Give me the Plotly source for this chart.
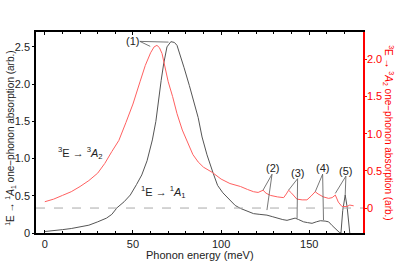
import plotly.graph_objects as go

# 1E -> 1A1 (left axis)
black_x = [0, 5, 10, 15, 20, 25, 30, 35, 38, 41, 45, 48.5, 52, 55, 58, 61, 63, 64.6, 66, 67.4, 69.3,
           71.5, 73.5, 75, 77, 79, 82, 84.5, 87, 89.2, 92, 95.4, 98, 101, 105, 108, 111, 115, 118.4,
           122, 126, 129, 131.7, 135, 137.4, 140, 142, 144, 146.8, 149, 151.6, 154, 156.3, 159, 161,
           163, 165, 167, 168, 169, 170.4, 171.5, 173]
black_y = [0.02, 0.03, 0.045, 0.06, 0.08, 0.105, 0.15, 0.2, 0.25, 0.34, 0.42, 0.51, 0.65, 0.78, 0.97,
           1.25, 1.5, 1.83, 2.05, 2.27, 2.5, 2.57, 2.56, 2.52, 2.38, 2.22, 1.98, 1.78, 1.55, 1.29, 1.05,
           0.81, 0.64, 0.54, 0.44, 0.37, 0.33, 0.29, 0.26, 0.25, 0.24, 0.22, 0.2, 0.18, 0.17, 0.185,
           0.2, 0.18, 0.15, 0.14, 0.13, 0.15, 0.165, 0.16, 0.15, 0.1, 0.05, 0.01, 0.0, 0.3, 0.51,
           0.35, 0.0]

# 3E -> 3A2 (right axis)
red_x = [0, 5, 10, 15, 20, 25, 30, 34, 38, 42, 46, 50, 54, 57, 60, 62, 63.6, 65, 66.5, 68, 70, 72.5,
         75, 78, 81, 84, 87, 90, 95, 100, 105, 111, 115, 118.4, 121, 123.8, 125.5, 128, 132, 135.5,
         137, 138.3, 140, 143, 146, 148.7, 151, 153.4, 155, 158, 161, 163, 164.8, 166.5, 168.6,
         171.4, 173, 175.2]
red_y = [0.085, 0.12, 0.17, 0.22, 0.29, 0.37, 0.47, 0.6, 0.76, 0.91, 1.15, 1.4, 1.7, 1.92, 2.09, 2.17,
         2.19, 2.16, 2.08, 1.92, 1.7, 1.5, 1.27, 1.05, 0.88, 0.72, 0.62, 0.55, 0.48, 0.39, 0.33, 0.29,
         0.25, 0.22, 0.21, 0.24, 0.2, 0.17, 0.15, 0.14, 0.19, 0.24, 0.2, 0.12, 0.11, 0.11, 0.16, 0.22,
         0.19, 0.15, 0.13, 0.14, 0.175, 0.08, 0.02, 0.02, 0.04, 0.03]

x_ticks = [0, 50, 100, 150]
left_ticks = [0, 0.5, 1.0, 1.5, 2.0, 2.5]
left_tick_text = ["0", "0.5", "1.0", "1.5", "2.0", "2.5"]
right_ticks = [0, 0.5, 1.0, 1.5, 2.0]
right_tick_text = ["0", "0.5", "1.0", "1.5", "2.0"]

peak_labels = ["(1)", "(2)", "(3)", "(4)", "(5)"]

FONT = "Liberation Sans, Arial, sans-serif"
RED = "#ff0000"

fig = go.Figure()
fig.add_trace(go.Scatter(x=black_x, y=black_y, mode="lines", hoverinfo="skip",
                         line=dict(color="#555555", width=1), yaxis="y", showlegend=False))
fig.add_trace(go.Scatter(x=red_x, y=red_y, mode="lines", hoverinfo="skip",
                         line=dict(color="#ff6060", width=1), yaxis="y2", showlegend=False))

shapes = [dict(type="line", xref="paper", yref="y2", x0=0, x1=1, y0=0, y1=0,
               line=dict(color="#aaaaaa", width=1, dash="dash"))]

label_geo = [
    (49.8, 2.574, (53.9, 2.574), (59.8, 2.507), (70.2, 2.564)),
    (129.2, 0.867, (128.9, 0.79), (123.8, 0.576), (126.0, 0.308)),
    (143.4, 0.80, (143.4, 0.73), (138.3, 0.576), (143.1, 0.197)),
    (157.6, 0.867, (157.6, 0.79), (153.4, 0.554), (158.1, 0.174)),
    (170.8, 0.835, (170.8, 0.764), (164.8, 0.532), (170.4, 0.509)),
]
annotations = []
for lab, (tx, ty, st, rt, bt) in zip(peak_labels, label_geo):
    annotations.append(dict(x=tx, y=ty, xref="x", yref="y", text=lab, showarrow=False,
                            font=dict(size=11, color="#222222", family=FONT)))
    for tgt in (rt, bt):
        shapes.append(dict(type="line", xref="x", yref="y", x0=st[0], y0=st[1], x1=tgt[0], y1=tgt[1],
                           line=dict(color="#555555", width=0.8)))

annotations.append(dict(x=20.1, y=1.068, xref="x", yref="y", showarrow=False,
                        text="<sup>3</sup>E → <sup>3</sup><i>A</i><sub>2</sub>",
                        font=dict(size=11, color="#222222", family=FONT)))
annotations.append(dict(x=67.4, y=0.554, xref="x", yref="y", showarrow=False,
                        text="<sup>1</sup>E → <sup>1</sup><i>A</i><sub>1</sub>",
                        font=dict(size=11, color="#222222", family=FONT)))

# axis titles as annotations (fixed positions)
annotations.append(dict(x=-0.0786, y=0.47, xref="paper", yref="paper", showarrow=False, textangle=-90,
                        xanchor="center", yanchor="middle",
                        text="<sup>1</sup>E → <sup>1</sup><i>A</i><sub>1</sub> one−phonon absorption (arb.)",
                        font=dict(size=10, color="#222222", family=FONT)))
annotations.append(dict(x=1.0774, y=0.5, xref="paper", yref="paper", showarrow=False, textangle=90,
                        xanchor="center", yanchor="middle",
                        text="<sup>3</sup>E → <sup>3</sup><i>A</i><sub>2</sub> one−phonon absorption (arb.)",
                        font=dict(size=10, color=RED, family=FONT)))
annotations.append(dict(x=0.5, y=-0.108, xref="paper", yref="paper", showarrow=False,
                        xanchor="center", yanchor="middle", text="Phonon energy (meV)",
                        font=dict(size=11, color="#222222", family=FONT)))

fig.update_layout(
    width=399, height=265,
    margin=dict(l=35.7, r=36.3, t=31.7, b=32, autoexpand=False),
    paper_bgcolor="white", plot_bgcolor="white", hovermode=False,
    font=dict(family=FONT, size=11, color="#222222"),
    shapes=shapes, annotations=annotations,
    xaxis=dict(range=[-5, 180.5], tickvals=x_ticks, ticks="inside", ticklen=3, tickcolor="black",
               showline=True, linecolor="black", linewidth=1.5, mirror="ticks", showgrid=False,
               zeroline=False, automargin=False,
               minor=dict(dtick=10, tick0=0, ticks="inside", ticklen=2, tickcolor="black")),
    yaxis=dict(range=[0, 2.70], tickvals=left_ticks, ticktext=left_tick_text, ticks="outside",
               ticklen=2, tickcolor="black", showline=True, linecolor="black", linewidth=1.5,
               showgrid=False, zeroline=False, automargin=False),
    yaxis2=dict(range=[-0.336, 2.37], tickvals=right_ticks, ticktext=right_tick_text,
                overlaying="y", side="right", ticks="outside", ticklen=2, tickcolor=RED,
                showline=True, linecolor=RED, linewidth=1.5, showgrid=False, zeroline=False,
                automargin=False, tickfont=dict(color=RED), ticklabelstandoff=-2),
)

# remove the default 8px page margin so the figure fills the window exactly
fig.write_html("out.html", config={"displayModeBar": False},
               post_script="document.body.style.margin='0';")
